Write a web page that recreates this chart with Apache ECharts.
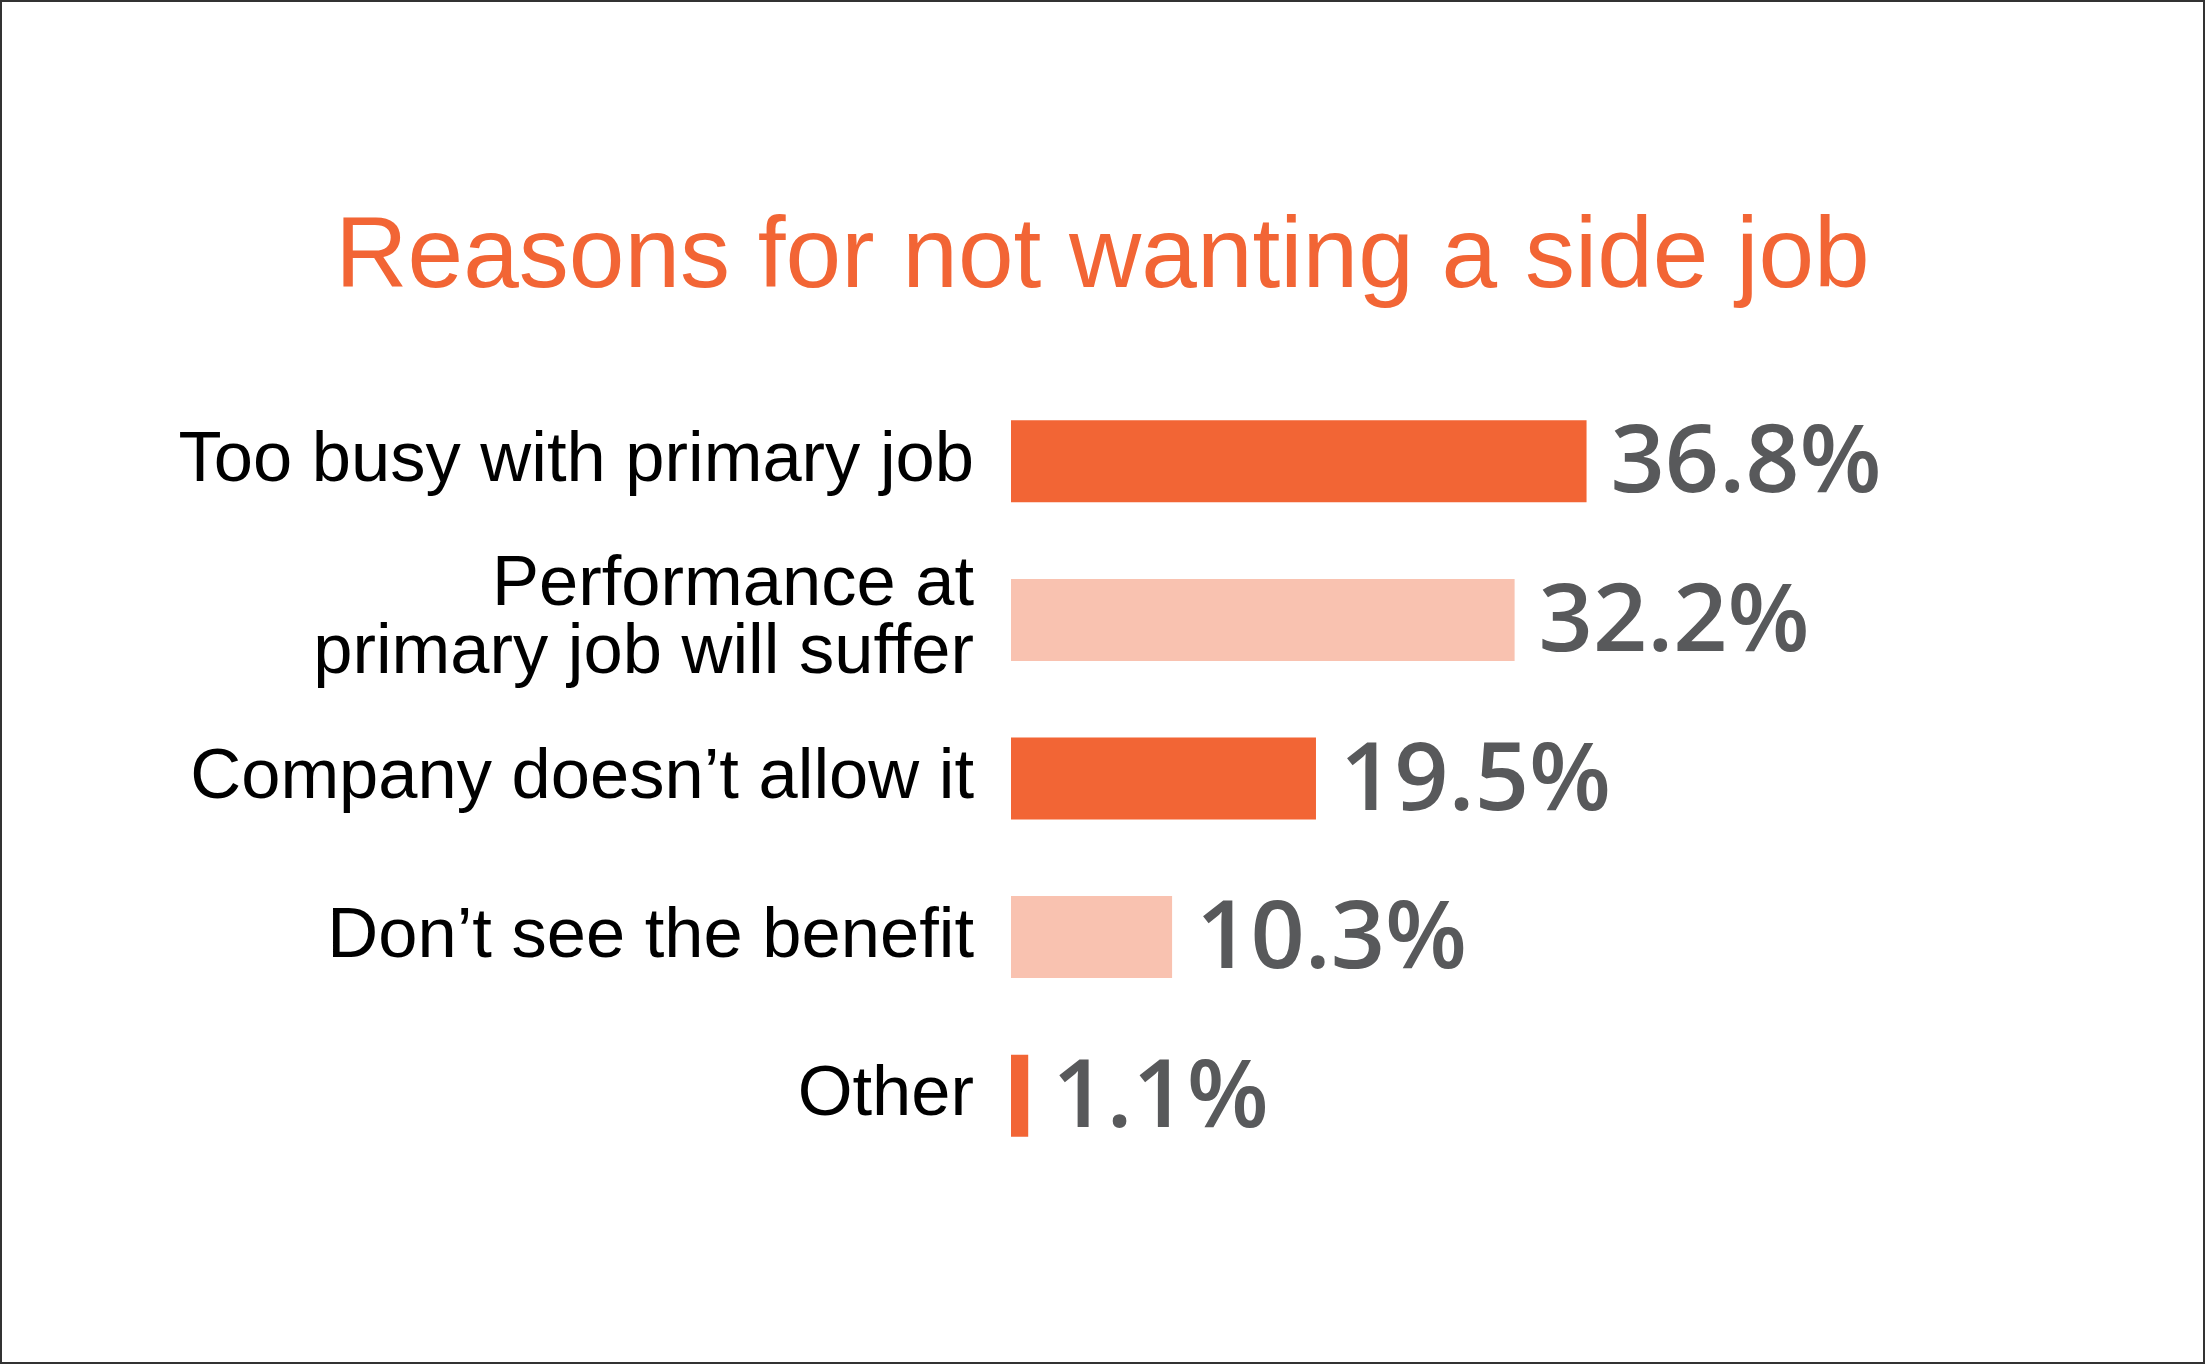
<!DOCTYPE html>
<html>
<head>
<meta charset="utf-8">
<script src="https://cdn.jsdelivr.net/npm/echarts@6/dist/echarts.min.js"></script>
<style>
html,body{margin:0;padding:0;background:#fff;}
#chart{width:2205px;height:1364px;}
</style>
</head>
<body>
<div id="chart"></div>
<script>
var titleText = 'Reasons for not wanting a side job';
var categories = ['Too busy with primary job', 'Performance at\nprimary job will suffer', 'Company doesn\u2019t allow it', 'Don\u2019t see the benefit', 'Other'];
var values = [36.8, 32.2, 19.5, 10.3, 1.1];
var barColors = ['#F26535', '#F9C2B0', '#F26535', '#F9C2B0', '#F26535'];

var chart = echarts.init(document.getElementById('chart'));
chart.setOption({
  backgroundColor: '#ffffff',
  animation: false,
  title: {
    text: titleText,
    left: 'center',
    top: 204,
    textStyle: { color: '#F26535', fontSize: 100, fontWeight: 'normal', fontFamily: 'Liberation Sans, Arial, sans-serif' }
  },
  graphic: [{
    type: 'rect',
    shape: { x: 1, y: 1, width: 2203, height: 1362 },
    style: { fill: 'none', stroke: '#333333', lineWidth: 2 },
    silent: true
  }],
  grid: { left: 1011, top: 382, height: 793, width: 625.6 },
  xAxis: { type: 'value', min: 0, max: 40, show: false },
  yAxis: {
    type: 'category',
    data: categories,
    inverse: true,
    axisLine: { show: false },
    axisTick: { show: false },
    axisLabel: {
      margin: 37,
      fontSize: 70.5,
      lineHeight: 68,
      color: '#000000',
      align: 'right',
      fontFamily: 'Liberation Sans, Arial, sans-serif'
    }
  },
  series: [{
    type: 'bar',
    barWidth: 82,
    data: values.map(function (v, i) { return { value: v, itemStyle: { color: barColors[i] } }; }),
    label: {
      show: true,
      position: 'right',
      distance: 24,
      offset: [0, 4],
      formatter: function (p) { return p.value.toFixed(1) + '%'; },
      color: '#58595B',
      fontSize: 95,
      fontWeight: 600,
      fontFamily: 'Open Sans, sans-serif'
    }
  }]
});
</script>
</body>
</html>
